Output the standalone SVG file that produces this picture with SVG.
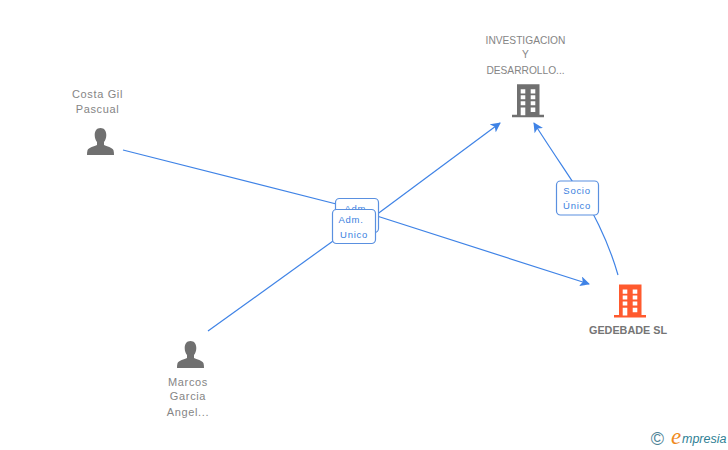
<svg xmlns="http://www.w3.org/2000/svg" width="728" height="450" viewBox="0 0 728 450">
<style>
text{font-family:"Liberation Sans",Arial,sans-serif}
.n{font-size:11px;fill:#858585;text-anchor:middle;letter-spacing:.65px}
.u{font-size:10.2px;fill:#858585;text-anchor:middle}
.b{font-size:10.8px;font-weight:bold;fill:#757575;text-anchor:middle}
.l{font-size:9.5px;fill:#3b7fe0;text-anchor:middle;letter-spacing:.7px}
.c{fill:none;stroke:#3f83e6;stroke-width:1.2}
.box{fill:#fff;stroke:#5a90e0;stroke-width:1.2}
.p{fill:#707070}
</style>
<defs>
<marker id="a" viewBox="0 0 10 10" refX="9" refY="5" markerWidth="10" markerHeight="10" markerUnits="userSpaceOnUse" orient="auto"><path d="M0 0L10 5L0 10L2.500 5Z" fill="#3f83e6"/></marker>
<path id="person" d="M13.500 0c3.800 0 5.800 2.800 5.800 7 0 3-1 5.500-2.300 7v3c2.500 1.500 8.500 2.300 9.500 5.300 .4 1.500 .5 3.200 .5 4.700H0c0-1.500 .1-3.200 .5-4.700 1-3 7-3.800 9.500-5.300v-3C8.700 12.500 7.700 10 7.700 7c0-4.200 2-7 5.800-7Z"/>
<path id="bld" fill-rule="evenodd" d="M5 0H27.500V30.500H32V33H0V30.500H5ZM8.700 5V9.300H13.300V5ZM18.700 5V9.300H23.300V5ZM8.700 11V15H13.300V11ZM18.700 11V15H23.300V11ZM8.700 17V21H13.300V17ZM18.700 17V21H23.300V17ZM8.700 23.300V31H13.300V23.300ZM18.700 23.300V27.700H23.300V23.300Z"/>
</defs>
<g id="connectors">
<path class="c" d="M123 150L352 208L589 284" marker-end="url(#a)"/>
<path class="c" d="M208 331L340 236"/>
<path class="c" d="M372 218L500 123" marker-end="url(#a)"/>
<path class="c" d="M618 275C608 240 590 205 578 190C565 170 548 145 534 123" marker-end="url(#a)"/>
</g>
<g id="node-inv">
<text class="u" x="525.500" y="44">INVESTIGACION</text>
<text class="u" x="525.500" y="58">Y</text>
<text class="u" x="525.500" y="74">DESARROLLO...</text>
<use href="#bld" x="512" y="84.300" fill="#707070"/>
</g>
<g id="node-costa">
<text class="n" x="97.500" y="98">Costa Gil</text>
<text class="n" x="97.500" y="113">Pascual</text>
<use href="#person" class="p" x="87" y="128"/>
</g>
<g id="node-marcos">
<use href="#person" class="p" x="177" y="341"/>
<text class="n" x="188" y="386">Marcos</text>
<text class="n" x="188" y="400">Garcia</text>
<text class="n" x="188" y="416">Angel...</text>
</g>
<g id="node-gedebade">
<use href="#bld" x="614" y="284.500" fill="#ff5a2e"/>
<text class="b" x="628" y="334">GEDEBADE SL</text>
</g>
<g id="label-adm-1">
<rect class="box" x="335.500" y="198.500" width="43" height="34" rx="4"/>
<text class="l" x="357" y="212">Adm.</text>
</g>
<g id="label-adm-2">
<rect class="box" x="332.500" y="209.500" width="43" height="34" rx="4"/>
<text class="l" x="351" y="223">Adm.</text>
<text class="l" x="354" y="238">Unico</text>
</g>
<g id="label-socio">
<rect class="box" x="556.500" y="181" width="42" height="34" rx="4"/>
<text class="l" x="577" y="194">Socio</text>
<text class="l" x="577" y="209">Único</text>
</g>
<g id="logo">
<text x="657.500" y="445" font-size="18" fill="#4d8296" text-anchor="middle">©</text>
<text x="671" y="444" style="font-family:'Liberation Serif',serif" font-size="23" font-style="italic" fill="#f08a1d">e</text>
<text x="682" y="443" font-size="12.500" font-style="italic" fill="#2f7f95">mpresia</text>
</g>
</svg>
